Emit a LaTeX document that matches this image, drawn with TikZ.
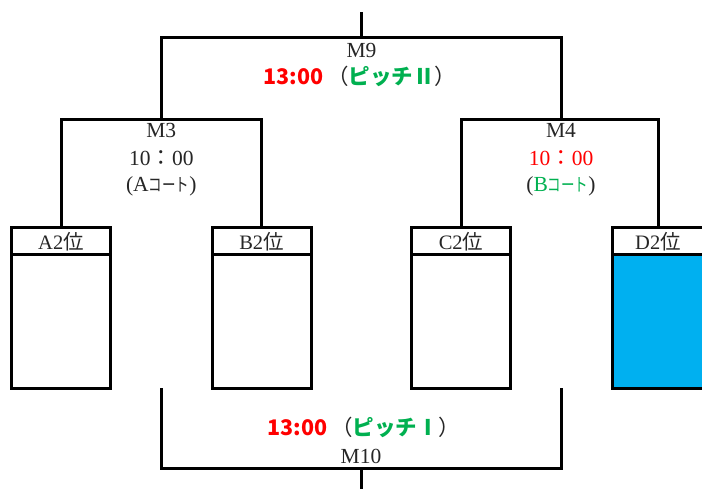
\documentclass[tikz,border=0pt]{standalone}
\usepackage{fontspec}
\setmainfont{Liberation Serif}
\newfontfamily\jp{Noto Sans CJK JP}
\newfontfamily\jpnarrow[FakeStretch=0.75]{Noto Sans CJK JP}
\usetikzlibrary{positioning}
\definecolor{ink}{HTML}{262626}
\definecolor{timered}{HTML}{FF0000}
\definecolor{pitchgreen}{HTML}{00B050}
\definecolor{seedblue}{HTML}{00B0F0}
\tikzset{
  bracket/.style={line width=3pt},
  teambox/.style={draw,line width=3pt,minimum width=99pt,minimum height=160.5pt,anchor=north,inner sep=0pt},
  headbox/.style={draw,line width=3pt,minimum width=99pt,minimum height=26.5pt,anchor=north,inner sep=0pt,text=ink,font=\fontsize{20.5}{24}\selectfont},
  lbl/.style={anchor=base,inner sep=0pt,text=ink,font=\fontsize{21.5}{25}\selectfont}
}
\begin{document}
\begin{tikzpicture}[x=1pt,y=-1pt]
  \useasboundingbox (0,0) rectangle (702,489);
  \clip (0,0) rectangle (702,489);
  % team boxes
  \foreach \n/\t/\x in {a2/A/61,b2/B/261.5,c2/C/461}{
    \node[teambox] (\n) at (\x,226.5) {};
    \node[headbox] (\n-h) at (\x,226.5) {\t2{\jp 位}};}
  \node[teambox,fill=seedblue,minimum width=92pt] (d2) at (658,226.5) {};
  \node[headbox,fill=white,minimum width=92pt] (d2-h) at (658,226.5) {D2{\jp 位}};
  % brackets
  \coordinate (m3) at (161.25,120);
  \coordinate (m4) at (561,120);
  \coordinate (m9) at (361.5,38);
  \draw[bracket] (a2.north) |- (m3) -| (b2.north);
  \draw[bracket] (c2.north) |- (m4) -| (d2.north);
  \draw[bracket] (m3) |- (m9) -| (m4);
  \draw[bracket] (m9) -- ++(0,-26);
  \coordinate (l10) at (161.5,388);
  \coordinate (r10) at (561.5,388);
  \coordinate (m10) at (361,468.3);
  \draw[bracket] (l10) |- (m10) -| (r10);
  \draw[bracket] (m10) -- ++(0,25);
  % match labels
  \node[lbl] (m9-name) at (361.5,58) {M9};
  \node[lbl] (m9-time) at (360,85) {{\jp\bfseries\color{timered}13:00}\,{\jp （\textcolor{pitchgreen}{\bfseries ピッチⅡ}）}};
  \node[lbl] (m3-name) at (161.25,138) {M3};
  \node[lbl] (m3-time) at (161.25,166) {10{\jp ：}00};
  \node[lbl] (m3-court) at (161.25,192) {(A{\jpnarrow\fontsize{18}{20}\selectfont コート})};
  \node[lbl] (m4-name) at (561,138) {M4};
  \node[lbl] (m4-time) at (561,166) {\color{timered}10{\jp ：}00};
  \node[lbl] (m4-court) at (561,192) {(\textcolor{pitchgreen}{B{\jpnarrow\fontsize{18}{20}\selectfont コート}})};
  \node[lbl] (m10-time) at (364,435) {{\jp\bfseries\color{timered}13:00}\,{\jp （\textcolor{pitchgreen}{\bfseries ピッチⅠ}）}};
  \node[lbl] (m10-name) at (361,463) {M10};
\end{tikzpicture}
\end{document}
